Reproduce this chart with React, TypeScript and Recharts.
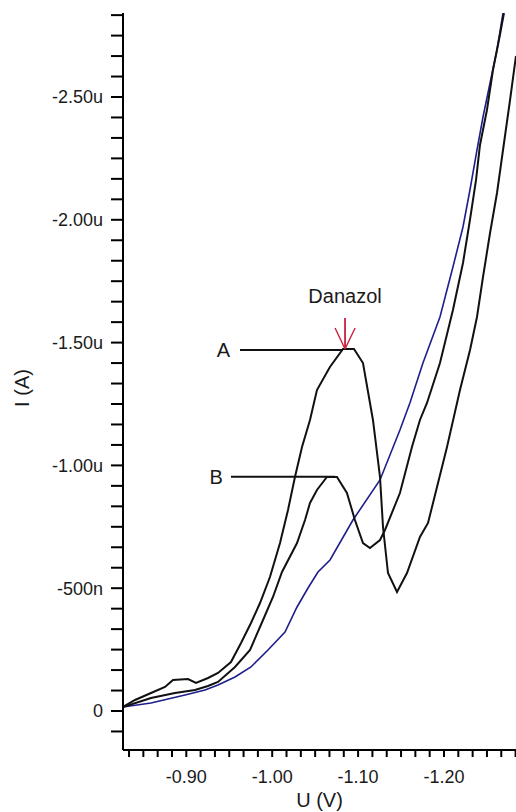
import React from 'react';
import { LineChart, Line, XAxis, YAxis, ReferenceLine } from 'recharts';

const FONT = '"Liberation Sans", Arial, Helvetica, sans-serif';
const TEXT = '#1a1a1a';

// Blank (blue) scan: potential U (V) and current I (µA)
const blankU = [-0.8263, -0.8589, -0.8985, -0.9218, -0.9369, -0.9567, -0.9753, -0.9951, -1.0149, -1.0289, -1.0417, -1.0533, -1.0673, -1.094, -1.1255, -1.1487, -1.1603, -1.1755, -1.1953, -1.2104, -1.2221, -1.2302, -1.2384, -1.2454, -1.2536, -1.2617, -1.2687];
const blankI = [-0.0163, -0.0326, -0.0651, -0.0855, -0.1059, -0.1384, -0.1792, -0.2484, -0.3217, -0.4235, -0.5008, -0.566, -0.6148, -0.7777, -0.9406, -1.1441, -1.2541, -1.4169, -1.6042, -1.8078, -1.9707, -2.1213, -2.2842, -2.4186, -2.557, -2.6914, -2.842];

// Curve A (Danazol, higher peak)
const curveAU = [-0.8263, -0.8403, -0.8589, -0.8752, -0.8845, -0.902, -0.9113, -0.9253, -0.9369, -0.952, -0.9637, -0.9753, -0.9858, -0.9974, -1.0091, -1.0184, -1.0265, -1.0347, -1.044, -1.0521, -1.0672, -1.0824, -1.0952, -1.1057, -1.1173, -1.1255, -1.129, -1.1348, -1.1453, -1.1569, -1.172, -1.1814, -1.2035, -1.2186, -1.2303, -1.2384, -1.2454, -1.2536, -1.2617, -1.2687, -1.2769, -1.2838];
const curveAI = [-0.0163, -0.0448, -0.0733, -0.0977, -0.1262, -0.1303, -0.114, -0.1344, -0.1547, -0.1995, -0.2769, -0.3583, -0.4397, -0.5456, -0.684, -0.8184, -0.9528, -1.0749, -1.1849, -1.307, -1.4007, -1.4739, -1.4739, -1.4169, -1.1849, -0.9528, -0.7492, -0.5619, -0.4845, -0.5619, -0.7085, -0.7655, -1.0749, -1.307, -1.4699, -1.6042, -1.7671, -1.9463, -2.1091, -2.2842, -2.4878, -2.667];

// Curve B (lower peak)
const curveBU = [-0.8263, -0.8589, -0.8868, -0.9101, -0.9252, -0.9369, -0.9567, -0.9742, -0.9893, -1.0009, -1.0114, -1.0289, -1.0382, -1.044, -1.0521, -1.0637, -1.0754, -1.087, -1.0963, -1.1057, -1.1138, -1.1255, -1.1313, -1.1487, -1.1627, -1.172, -1.1802, -1.1953, -1.2104, -1.2221, -1.2302, -1.2373, -1.2419, -1.25, -1.257, -1.2651, -1.2698];
const curveBI = [-0.0163, -0.0529, -0.0733, -0.0855, -0.1018, -0.1181, -0.1792, -0.2484, -0.3705, -0.4642, -0.566, -0.684, -0.7777, -0.8469, -0.8998, -0.9528, -0.9528, -0.8876, -0.7777, -0.684, -0.6637, -0.6963, -0.737, -0.8876, -1.0749, -1.1849, -1.2541, -1.4169, -1.6327, -1.8241, -1.9992, -2.1621, -2.3046, -2.4471, -2.61, -2.7524, -2.842];

// Axis ticks and labels
const xMajorTicks = [-0.9, -1.0, -1.1, -1.2];
const xMajorLabels = ['-0.90', '-1.00', '-1.10', '-1.20'];
const yMajorTicks = [0, -0.5, -1.0, -1.5, -2.0, -2.5];
const yMajorLabels = ['0', '-500n', '-1.00u', '-1.50u', '-2.00u', '-2.50u'];

// Annotations (data coordinates)
const peakA = { u: -1.0824, i: -1.47, labelStartU: -0.9625 };
const peakB = { u: -1.0731, i: -0.954, labelStartU: -0.952 };
const arrow = { u: -1.0848, topI: -1.6002, tipI: -1.4739, armI: -1.5594, armLeftU: -1.0732, armRightU: -1.0965 };

const xDomain: [number, number] = [-1.28382, -0.82631];
const yDomain: [number, number] = [-2.842, 0.1588];

const xTicks: number[] = [];
for (let k = 50; k <= 77; k++) xTicks.push(-k / 60);
const yTicks: number[] = [];
for (let k = -1; k <= 34; k++) yTicks.push(-k / 12);

const zip = (us: number[], is: number[]) => us.map((u, k) => ({ u, i: is[k] }));
const blankData = zip(blankU, blankI);
const aData = zip(curveAU, curveAI);
const bData = zip(curveBU, curveBI);

const fmt = (majors: number[], labels: string[]) => (v: number) => {
  const idx = majors.findIndex((m) => Math.abs(m - v) < 1e-6);
  return idx >= 0 ? labels[idx] : '';
};

const tickStyle = { fill: TEXT, fontSize: 18, fontFamily: FONT };
const axisStroke = { stroke: '#000', strokeWidth: 2 };
const RED = '#c8203c';

const YTitle = () => (
  <text
    x={29}
    y={388}
    transform="rotate(-90, 29, 388)"
    textAnchor="middle"
    fill={TEXT}
    fontSize={20}
    fontFamily={FONT}
  >
    I (A)
  </text>
);

export default function App() {
  return (
    <div style={{ position: 'absolute', left: 0, top: 0, width: 516, height: 812, background: '#fff' }}>
      <LineChart width={516} height={812} margin={{ top: 13, right: 0, left: 0, bottom: 0 }}>
        <XAxis
          xAxisId="top"
          orientation="top"
          type="number"
          dataKey="u"
          domain={xDomain}
          reversed
          allowDataOverflow
          height={0}
          tick={false}
          tickLine={false}
          axisLine={axisStroke}
        />
        <XAxis
          type="number"
          dataKey="u"
          domain={xDomain}
          reversed
          allowDataOverflow
          ticks={xTicks}
          interval={0}
          tickFormatter={fmt(xMajorTicks, xMajorLabels)}
          height={62}
          tickSize={7}
          tickMargin={13}
          tick={tickStyle}
          tickLine={axisStroke}
          axisLine={axisStroke}
          label={{ value: 'U (V)', position: 'insideBottom', offset: 5, fill: TEXT, fontSize: 20, fontFamily: FONT }}
        />
        <YAxis
          type="number"
          domain={yDomain}
          reversed
          allowDataOverflow
          ticks={yTicks}
          interval={0}
          tickFormatter={fmt(yMajorTicks, yMajorLabels)}
          width={123}
          tickSize={12}
          tickMargin={8}
          tick={tickStyle}
          tickLine={axisStroke}
          axisLine={axisStroke}
          label={{ content: () => <YTitle /> }}
        />
        <Line data={blankData} dataKey="i" type="linear" stroke="#1e1e8c" strokeWidth={1.6} dot={false} activeDot={false} isAnimationActive={false} />
        <Line data={bData} dataKey="i" type="linear" stroke="#111" strokeWidth={2} dot={false} activeDot={false} isAnimationActive={false} />
        <Line data={aData} dataKey="i" type="linear" stroke="#111" strokeWidth={2} dot={false} activeDot={false} isAnimationActive={false} />
        <ReferenceLine
          segment={[{ x: peakA.labelStartU, y: peakA.i }, { x: peakA.u, y: peakA.i }]}
          stroke="#111"
          strokeWidth={2}
          label={{ value: 'A', position: 'left', offset: 10, fill: TEXT, fontSize: 20, fontFamily: FONT }}
        />
        <ReferenceLine
          segment={[{ x: peakB.labelStartU, y: peakB.i }, { x: peakB.u, y: peakB.i }]}
          stroke="#111"
          strokeWidth={2}
          label={{ value: 'B', position: 'left', offset: 8, fill: TEXT, fontSize: 20, fontFamily: FONT }}
        />
        <ReferenceLine
          segment={[{ x: arrow.u, y: arrow.topI }, { x: arrow.u, y: arrow.tipI }]}
          stroke={RED}
          strokeWidth={1.8}
          label={{ value: 'Danazol', position: 'top', offset: 15, fill: TEXT, fontSize: 20, fontFamily: FONT }}
        />
        <ReferenceLine
          segment={[{ x: arrow.armLeftU, y: arrow.armI }, { x: arrow.u, y: arrow.tipI }]}
          stroke={RED}
          strokeWidth={1.4}
        />
        <ReferenceLine
          segment={[{ x: arrow.armRightU, y: arrow.armI }, { x: arrow.u, y: arrow.tipI }]}
          stroke={RED}
          strokeWidth={1.4}
        />
      </LineChart>
    </div>
  );
}
